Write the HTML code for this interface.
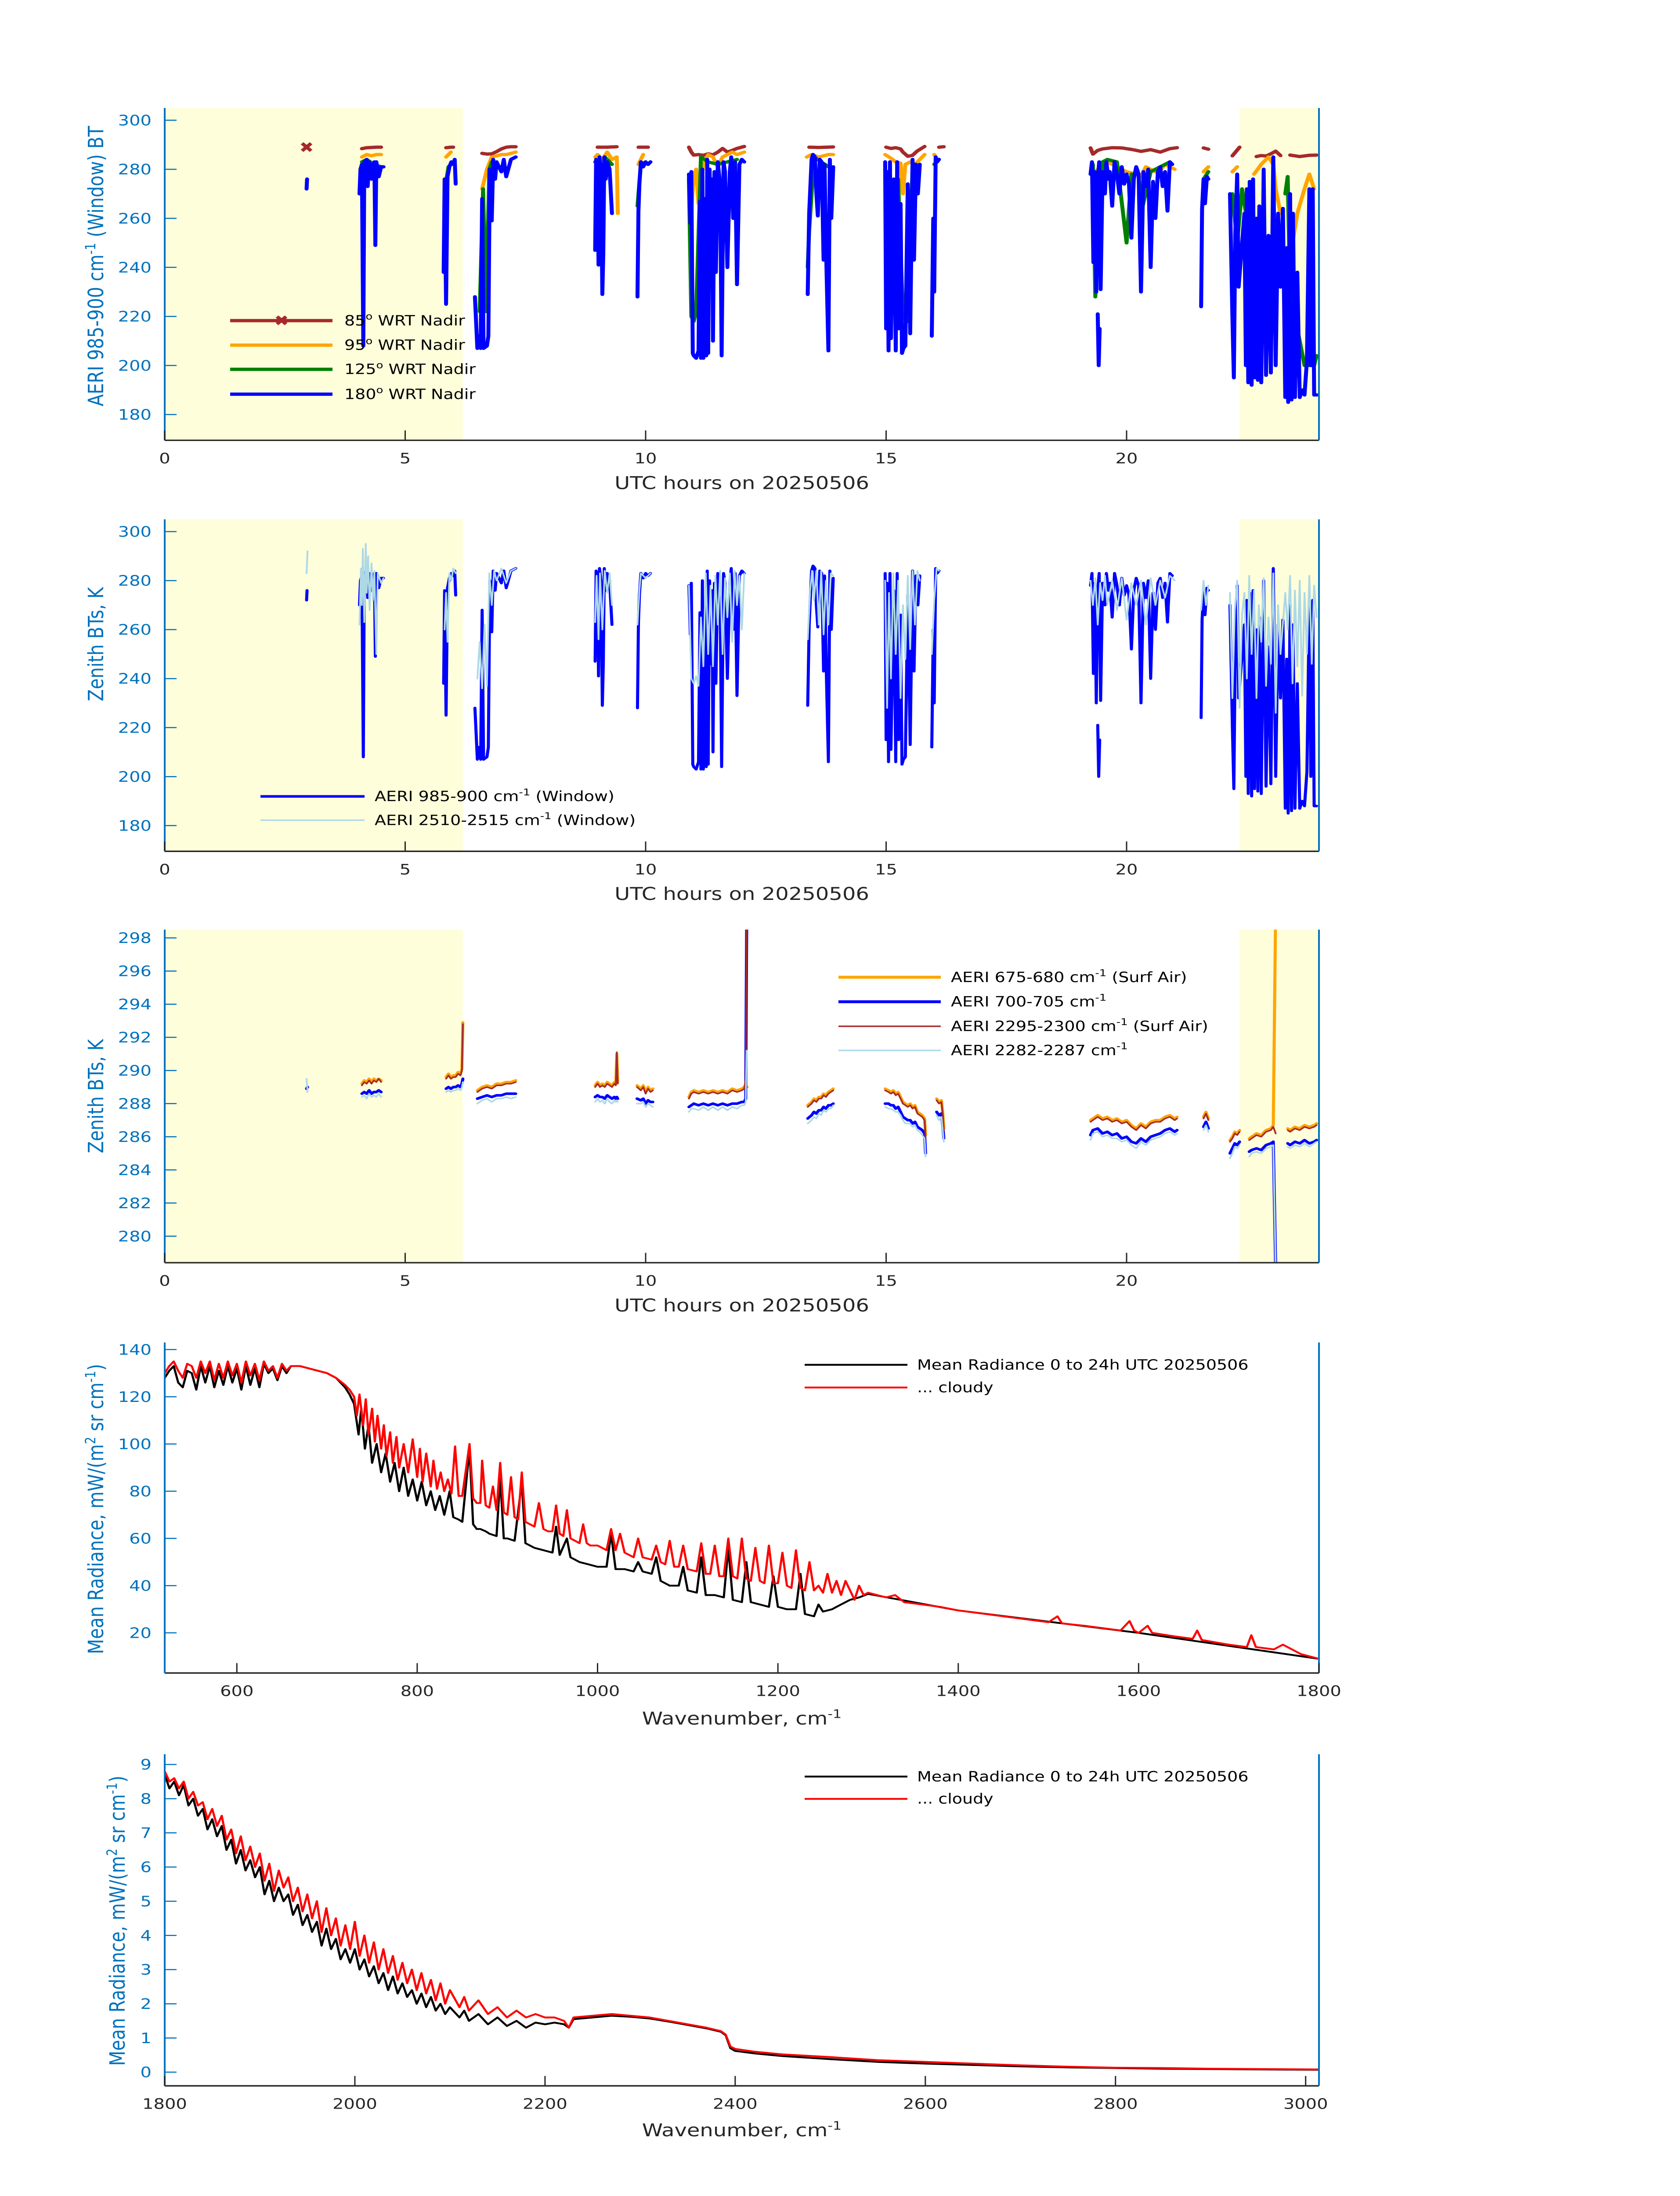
<!DOCTYPE html>
<html><head><meta charset="utf-8">
<style>
html,body{margin:0;padding:0;background:#fff;width:100%;height:100%;overflow:hidden;}
svg{display:block;position:absolute;left:0;top:0;width:100vw;height:100vh;font-family:"DejaVu Sans","Liberation Sans",sans-serif;}
</style></head>
<body>
<svg id="fig" xmlns="http://www.w3.org/2000/svg" viewBox="0 0 3825 6000" preserveAspectRatio="none">
<rect x="0" y="0" width="3825" height="6000" fill="#ffffff"/>
<defs>
<clipPath id="c0"><rect x="375" y="295" width="2628" height="908"/></clipPath>
<clipPath id="c1"><rect x="375" y="1419" width="2628" height="907"/></clipPath>
<clipPath id="c2"><rect x="375" y="2540" width="2628" height="910"/></clipPath>
<clipPath id="c3"><rect x="375" y="3668" width="2628" height="903"/></clipPath>
<clipPath id="c4"><rect x="375" y="4793" width="2628" height="906"/></clipPath>
</defs>
<g id="layer-bg"></g>
<g id="layer-data"></g>
<g id="layer-axes"></g>

<text transform="translate(235,727) rotate(-90)" text-anchor="middle" font-size="48" fill="#0072BD">AERI 985-900 cm<tspan font-size="32" dy="-18">-1</tspan><tspan dy="18"> (Window) BT</tspan></text>
<text x="1689" y="1336" text-anchor="middle" font-size="48" fill="#262626">UTC hours on 20250506</text>
<text transform="translate(235,1760) rotate(-90)" text-anchor="middle" font-size="48" fill="#0072BD">Zenith BTs, K</text>
<text x="1689" y="2459" text-anchor="middle" font-size="48" fill="#262626">UTC hours on 20250506</text>
<text transform="translate(235,2995) rotate(-90)" text-anchor="middle" font-size="48" fill="#0072BD">Zenith BTs, K</text>
<text x="1689" y="3583" text-anchor="middle" font-size="48" fill="#262626">UTC hours on 20250506</text>
<text transform="translate(235,4123) rotate(-90)" text-anchor="middle" font-size="48" fill="#0072BD">Mean Radiance, mW/(m<tspan font-size="32" dy="-18">2</tspan><tspan dy="18"> sr cm</tspan><tspan font-size="32" dy="-18">-1</tspan><tspan dy="18">)</tspan></text>
<text x="1689" y="4712" text-anchor="middle" font-size="48" fill="#262626">Wavenumber, cm<tspan font-size="32" dy="-18">-1</tspan></text>
<text transform="translate(284,5248) rotate(-90)" text-anchor="middle" font-size="48" fill="#0072BD">Mean Radiance, mW/(m<tspan font-size="32" dy="-18">2</tspan><tspan dy="18">  sr cm</tspan><tspan font-size="32" dy="-18">-1</tspan><tspan dy="18">)</tspan></text>
<text x="1689" y="5837" text-anchor="middle" font-size="48" fill="#262626">Wavenumber, cm<tspan font-size="32" dy="-18">-1</tspan></text>

<g font-size="38" fill="#000">
 <line x1="524" y1="876" x2="757" y2="876" stroke="#A52A2A" stroke-width="9"/>
 <text x="641" y="890" text-anchor="middle" font-size="40" fill="#A52A2A" font-weight="bold">✖</text>
 <text x="784" y="889">85<tspan font-size="26" dy="-16">o</tspan><tspan dy="16"> WRT Nadir</tspan></text>
 <line x1="524" y1="943" x2="757" y2="943" stroke="#FFA500" stroke-width="9"/>
 <text x="784" y="956">95<tspan font-size="26" dy="-16">o</tspan><tspan dy="16"> WRT Nadir</tspan></text>
 <line x1="524" y1="1009" x2="757" y2="1009" stroke="#008000" stroke-width="9"/>
 <text x="784" y="1022">125<tspan font-size="26" dy="-16">o</tspan><tspan dy="16"> WRT Nadir</tspan></text>
 <line x1="524" y1="1077" x2="757" y2="1077" stroke="#0000FF" stroke-width="9"/>
 <text x="784" y="1090">180<tspan font-size="26" dy="-16">o</tspan><tspan dy="16"> WRT Nadir</tspan></text>
</g>
<g font-size="38" fill="#000">
 <line x1="593" y1="2176" x2="830" y2="2176" stroke="#0000FF" stroke-width="7"/>
 <text x="853" y="2189">AERI 985-900 cm<tspan font-size="26" dy="-16">-1</tspan><tspan dy="16"> (Window)</tspan></text>
 <line x1="593" y1="2241" x2="830" y2="2241" stroke="#ADD8E6" stroke-width="4"/>
 <text x="853" y="2254">AERI 2510-2515 cm<tspan font-size="26" dy="-16">-1</tspan><tspan dy="16"> (Window)</tspan></text>
</g>
<g font-size="38" fill="#000">
 <line x1="1909" y1="2670" x2="2142" y2="2670" stroke="#FFA500" stroke-width="8"/>
 <text x="2165" y="2683">AERI 675-680 cm<tspan font-size="26" dy="-16">-1</tspan><tspan dy="16"> (Surf Air)</tspan></text>
 <line x1="1909" y1="2737" x2="2142" y2="2737" stroke="#0000FF" stroke-width="8"/>
 <text x="2165" y="2750">AERI 700-705 cm<tspan font-size="26" dy="-16">-1</tspan></text>
 <line x1="1909" y1="2804" x2="2142" y2="2804" stroke="#A52A2A" stroke-width="4"/>
 <text x="2165" y="2817">AERI 2295-2300 cm<tspan font-size="26" dy="-16">-1</tspan><tspan dy="16"> (Surf Air)</tspan></text>
 <line x1="1909" y1="2870" x2="2142" y2="2870" stroke="#ADD8E6" stroke-width="4"/>
 <text x="2165" y="2883">AERI 2282-2287 cm<tspan font-size="26" dy="-16">-1</tspan></text>
</g>
<g font-size="38" fill="#000">
 <line x1="1832" y1="3729" x2="2066" y2="3729" stroke="#000" stroke-width="5"/>
 <text x="2088" y="3742">Mean Radiance 0 to 24h UTC 20250506</text>
 <line x1="1832" y1="3791" x2="2066" y2="3791" stroke="#FF0000" stroke-width="5"/>
 <text x="2088" y="3804">... cloudy</text>
</g>
<g font-size="38" fill="#000">
 <line x1="1832" y1="4854" x2="2066" y2="4854" stroke="#000" stroke-width="5"/>
 <text x="2088" y="4867">Mean Radiance 0 to 24h UTC 20250506</text>
 <line x1="1832" y1="4915" x2="2066" y2="4915" stroke="#FF0000" stroke-width="5"/>
 <text x="2088" y="4928">... cloudy</text>
</g>
</svg>

<script>
const p1BlueT = [2.95,2.96,null,
4.05,4.07,4.1,4.13,4.15,4.2,4.22,4.25,4.3,4.33,4.36,4.38,4.4,4.45,4.5,4.55,null,
5.8,5.82,5.85,5.88,5.92,5.96,6.0,6.03,6.05,null,
6.45,6.5,6.53,6.57,6.6,6.63,6.7,6.73,6.76,6.8,6.83,6.87,6.9,7.0,7.05,7.1,7.2,7.3,null,
8.95,8.97,9.0,9.02,9.04,9.07,9.1,9.12,9.14,9.17,9.2,9.25,9.3,null,
9.83,9.85,9.87,9.9,9.95,10.0,10.05,10.1,null,
10.9,10.93,10.95,10.98,11.0,11.05,11.1,11.13,11.15,11.18,11.2,11.23,11.26,11.28,11.3,11.33,11.36,11.38,11.4,11.43,11.46,11.5,11.55,11.58,11.62,11.65,11.7,11.75,11.78,11.82,11.86,11.9,11.95,12.0,12.05,null,
13.37,13.4,13.45,13.48,13.52,13.55,13.58,13.62,13.66,13.7,13.72,13.76,13.8,13.83,13.86,13.9,null,
14.98,15.0,15.02,15.05,15.08,15.1,15.13,15.16,15.2,15.23,15.26,15.3,15.33,15.36,15.4,15.45,15.5,15.55,15.58,15.62,15.66,15.7,null,
15.95,15.98,16.0,16.03,16.06,16.1,null,
19.25,19.28,19.31,19.34,19.37,19.4,19.43,19.46,19.5,19.55,19.58,19.62,19.65,19.7,19.75,19.8,19.85,19.9,19.95,20.0,20.05,20.1,20.15,20.2,20.25,20.3,20.35,20.4,20.45,20.5,20.55,20.6,20.65,20.7,20.75,20.8,20.85,20.9,20.95,null,
19.4,19.42,19.44,null,
21.55,21.57,21.6,21.63,21.67,21.7,null,
22.15,22.2,22.23,22.26,22.3,22.33,22.45,22.48,22.5,22.53,22.56,22.6,22.63,22.66,22.7,22.73,22.76,22.8,22.85,22.9,22.95,23.0,23.05,23.1,23.15,23.2,23.25,23.3,23.33,23.36,23.4,23.43,23.46,23.5,23.55,23.6,23.65,23.7,23.75,23.8,23.83,23.87,23.9,23.95];
const p1BlueV = [272,276,null,
270,280,282,208,283,284,273,283,276,282,283,249,283,277,281,281,null,
238,276,225,277,281,283,282,284,274,null,
228,207,212,207,268,207,208,212,280,259,284,276,283,279,284,277,284,285,null,
247,284,282,241,285,280,229,246,285,276,283,280,262,null,
228,263,274,283,281,283,282,283,null,
278,258,279,205,204,203,206,267,203,280,203,268,204,284,205,280,246,276,210,279,238,283,273,204,283,279,240,279,285,260,283,233,282,284,283,null,
229,262,284,286,285,270,261,284,283,243,282,240,206,284,260,281,null,
283,215,279,206,283,211,245,276,206,283,215,266,205,207,208,274,213,284,243,282,270,282,null,
212,260,230,285,283,284,null,
278,283,242,279,230,276,283,231,279,270,283,276,279,265,283,278,270,281,274,278,274,252,276,281,278,230,279,273,280,240,275,260,279,281,273,279,263,283,282,null,
221,200,215,null,
224,264,276,266,277,276,null,
270,220,195,254,278,232,262,200,272,193,275,192,276,195,260,194,265,193,280,196,253,197,285,200,262,232,264,187,248,185,270,186,262,187,238,187,190,188,202,272,200,272,188,188];

const p1BrownT = [4.1,4.2,4.3,4.4,4.5,null,5.85,5.95,6.0,null,6.6,6.7,6.8,6.9,7.0,7.1,7.2,7.3,null,9.0,9.2,9.4,null,9.85,10.05,null,
10.9,10.95,11.0,11.1,11.2,11.3,11.4,11.5,11.6,11.7,11.8,11.9,12.05,null,13.4,13.6,13.9,null,
15.0,15.1,15.2,15.3,15.35,15.45,15.55,15.65,15.8,null,16.1,16.2,null,
19.25,19.3,19.4,19.5,19.7,19.9,20.1,20.3,20.5,20.7,20.9,21.05,null,21.6,21.7,null,22.2,22.35,null,
22.7,22.8,22.9,23.0,23.1,23.2,null,23.4,23.6,23.8,23.95];
const p1BrownV = [288.4,288.8,288.9,289,289,null,288.8,289,289,null,286.5,286.2,286.3,287.2,288.3,289,289.2,289.2,null,289,289,289.2,null,289,289,null,
289,287,285.8,286,285.7,286.3,285.9,287,288.5,287,287.7,288.5,289.3,null,289,288.9,289.1,null,
289,288.5,288.8,288.3,287,285.3,285.7,287.5,289.3,null,289,289.2,null,
288.7,286.2,287.7,288.3,288.8,288.7,288.1,287.3,288,287,288.4,288.8,null,288.7,288.2,null,285.5,289,null,
285.2,285.6,285.4,286.3,287.4,285.6,null,285.8,285.2,285.7,285.8];
const p1MarkerT = [2.95];
const p1MarkerV = [289];

const p1OrangeT = [4.1,4.2,4.3,4.4,4.5,null,5.85,5.95,null,6.6,6.7,6.8,6.9,7.0,7.1,7.2,7.3,null,
8.95,9.0,9.1,9.2,9.3,9.4,9.42,null,9.85,9.95,null,
10.9,10.95,11.0,11.05,11.1,11.2,11.3,11.4,11.5,11.6,11.7,11.8,11.9,12.05,null,13.35,13.45,13.6,13.8,13.9,null,
14.98,15.1,15.2,15.3,15.35,15.4,15.5,15.6,15.7,15.8,null,16.0,16.08,null,
19.3,19.4,19.5,19.6,19.7,19.8,20.0,20.2,20.3,20.4,20.5,20.6,20.7,20.8,20.9,21.0,null,21.6,21.7,null,22.2,22.3,null,
22.65,22.8,22.95,23.05,23.1,23.2,null,23.4,23.45,23.55,23.7,23.8,23.9];
const p1OrangeV = [285,286,285.5,286,286,null,285,287,null,272,280,285,285.5,286,286,286.5,287,null,
285,286,284,287,284,285,262,null,282,286,null,
276,263,277,280,266,282,286,285,281,285,286,287,286,287,null,285,286,285,286,286,null,
286,284.5,283,282.5,270,282,283,282,284,286,null,286,283.5,null,
277,280,281,283,282,281,279,278,277,281,280,279,279.5,282,281,280,null,279,281,null,279,281,null,
278,282,285,282,272,262,null,258,250,262,272,278,272];

const p1GreenT = [4.1,4.2,4.35,4.5,null,5.85,5.9,6.0,null,6.55,6.62,6.68,6.75,6.8,null,8.95,9.05,9.1,9.15,9.3,null,9.83,9.9,10.0,null,
10.9,10.95,11.0,11.05,11.15,11.3,11.5,11.7,11.9,null,13.37,13.4,13.5,13.8,null,15.15,15.25,15.35,15.45,15.55,15.6,null,16.0,16.05,null,
19.3,19.35,19.5,19.6,19.8,20.0,20.1,20.25,20.3,20.5,20.9,null,21.6,21.7,null,22.2,22.3,22.4,22.5,null,23.3,23.35,23.4,23.7,23.9,23.95];
const p1GreenV = [283,284,282,281,null,275,281,283,null,222,272,222,280,283,null,283,283,260,285,282,null,265,282,283,null,
276,220,218,222,285,283,282,283,284,null,240,255,285,281,null,263,276,220,218,281,282,null,282,283,null,
282,228,283,284,283,250,278,278,262,279,283,null,276,279,null,270,250,272,260,null,270,277,230,200,200,204];

const p2LightT = [2.95,2.97,null,
4.05,4.08,4.1,4.12,4.15,4.18,4.2,4.23,4.26,4.3,4.33,4.36,4.4,4.43,4.5,4.55,null,
5.82,5.85,5.88,5.92,5.96,6.0,6.05,null,
6.5,6.55,6.6,6.65,6.7,6.75,6.8,6.85,6.9,7.0,7.1,7.2,7.3,null,
8.95,8.98,9.02,9.05,9.1,9.15,9.2,9.25,9.3,null,
9.83,9.87,9.9,10.0,10.1,null,
10.9,10.95,11.0,11.05,11.1,11.15,11.2,11.25,11.3,11.35,11.4,11.45,11.5,11.55,11.6,11.65,11.7,11.75,11.8,11.85,11.9,11.95,12.0,12.05,null,
13.37,13.42,13.46,13.5,13.55,13.6,13.65,13.7,13.75,13.8,13.85,13.9,null,
14.98,15.02,15.06,15.1,15.15,15.2,15.25,15.3,15.35,15.4,15.45,15.5,15.55,15.6,15.65,15.7,null,
15.95,16.0,16.05,16.1,null,
19.25,19.3,19.35,19.4,19.45,19.5,19.55,19.6,19.7,19.8,19.9,20.0,20.1,20.2,20.3,20.4,20.5,20.6,20.7,20.8,20.9,21.0,null,
21.55,21.6,21.65,21.7,null,
22.15,22.2,22.25,22.3,22.35,22.4,22.45,22.5,22.55,22.6,22.65,22.7,22.75,22.8,22.85,22.9,22.95,23.0,23.05,23.1,23.15,23.2,23.3,23.35,23.4,23.45,23.5,23.55,23.6,23.65,23.7,23.75,23.8,23.85,23.9,23.95];
const p2LightV = [283,292,null,
262,285,270,293,263,295,275,290,268,287,272,284,250,283,279,281,null,
260,275,255,283,280,285,283,null,
240,255,236,262,237,283,270,284,280,285,279,284,285,null,
263,282,256,283,260,284,275,283,270,null,
262,276,283,281,283,null,
278,240,238,241,237,265,245,283,250,278,245,282,262,284,250,281,265,283,255,284,270,282,260,283,null,
256,276,284,272,284,262,284,258,280,262,283,282,null,
280,228,275,240,283,250,280,232,270,248,282,252,284,262,284,280,null,
250,272,285,284,null,
280,270,281,262,279,272,282,270,280,268,281,264,279,270,280,262,281,270,280,273,282,280,null,
268,280,270,278,null,
275,232,268,280,228,266,275,240,282,250,276,232,270,255,281,237,265,246,283,226,270,250,275,260,282,238,276,245,280,233,275,250,282,246,278,265];

const p3T = [2.95,2.97,null,
4.1,4.15,4.2,4.25,4.3,4.35,4.4,4.45,4.5,null,
5.85,5.9,5.95,6.0,6.05,6.1,6.15,6.18,6.2,null,
6.5,6.6,6.7,6.8,6.9,7.0,7.1,7.2,7.3,null,
8.95,9.0,9.05,9.1,9.15,9.2,9.25,9.3,9.35,9.38,9.4,9.42,null,
9.82,9.9,9.95,10.0,10.05,10.1,10.15,null,
10.9,10.95,11.0,11.1,11.2,11.3,11.4,11.5,11.6,11.7,11.8,11.9,12.0,12.05,12.08,12.1,12.11,null,
13.37,13.45,13.5,13.55,13.6,13.65,13.7,13.75,13.8,13.85,13.9,null,
14.98,15.05,15.1,15.15,15.2,15.25,15.3,15.35,15.4,15.45,15.5,15.55,15.6,15.65,15.7,15.75,15.8,15.82,null,
16.05,16.1,16.15,16.18,16.2,null,
19.25,19.3,19.4,19.5,19.6,19.7,19.8,19.9,20.0,20.1,20.2,20.3,20.4,20.5,20.6,20.7,20.8,20.9,21.0,21.05,null,
21.6,21.65,21.7,null,
22.15,22.2,22.25,22.3,22.35,null,
22.55,22.6,22.7,22.8,22.9,23.0,23.05,23.1,null,
23.35,23.4,23.5,23.6,23.7,23.8,23.9,23.95];
const p3BrownV = [null,null,null,
289.1,289.3,289.2,289.4,289.2,289.4,289.3,289.5,289.3,null,
289.5,289.7,289.5,289.6,289.6,289.8,289.7,290.0,292.8,null,
288.7,288.9,289.0,288.9,289.1,289.1,289.2,289.2,289.3,null,
289.0,289.2,289.0,289.1,289.0,289.2,289.1,289.0,289.2,289.1,291.1,289.2,null,
289.0,288.8,289.0,288.6,288.9,288.7,288.8,null,
288.3,288.6,288.7,288.6,288.7,288.6,288.7,288.6,288.7,288.6,288.8,288.7,288.8,288.9,289.5,298.6,298.6,null,
287.8,288.0,288.2,288.1,288.3,288.3,288.5,288.4,288.6,288.7,288.8,null,
288.8,288.7,288.6,288.7,288.5,288.6,288.3,288.0,287.9,287.8,287.9,287.7,287.8,287.4,287.3,287.2,287.0,286.0,null,
288.2,288.0,288.1,287.3,286.4,null,
286.9,287.0,287.2,287.0,287.1,286.9,287.0,286.8,286.9,286.6,286.4,286.7,286.5,286.8,286.9,286.9,287.1,287.2,287.0,287.1,null,
287.1,287.4,287.0,null,
285.7,285.9,286.2,286.1,286.3,null,
285.8,285.9,286.1,286.0,286.3,286.4,286.6,286.2,null,
286.4,286.3,286.5,286.4,286.6,286.5,286.6,286.7];
const p3OrangeV = [null,null,null,
289.2,289.4,289.3,289.5,289.3,289.5,289.4,289.5,289.4,null,
289.6,289.8,289.6,289.7,289.7,289.9,289.8,290.1,292.9,null,
288.8,289.0,289.1,289.0,289.2,289.2,289.3,289.3,289.4,null,
289.1,289.3,289.1,289.2,289.1,289.3,289.2,289.1,289.3,289.2,291.0,289.3,null,
289.1,288.9,289.1,288.7,289.0,288.8,288.9,null,
288.4,288.7,288.8,288.7,288.8,288.7,288.8,288.7,288.8,288.7,288.9,288.8,288.9,289.0,289.1,289.0,289.0,null,
287.9,288.1,288.3,288.2,288.4,288.4,288.6,288.5,288.7,288.8,288.9,null,
288.9,288.8,288.7,288.8,288.6,288.7,288.4,288.1,288.0,287.9,288.0,287.8,287.9,287.5,287.4,287.3,287.1,286.1,null,
288.3,288.1,288.2,287.4,286.5,null,
287.0,287.1,287.3,287.1,287.2,287.0,287.1,286.9,287.0,286.7,286.5,286.8,286.6,286.9,287.0,287.0,287.2,287.3,287.1,287.2,null,
287.2,287.5,287.1,null,
285.8,286.0,286.3,286.2,286.4,null,
285.9,286.0,286.2,286.1,286.4,286.5,286.7,300,null,
286.5,286.4,286.6,286.5,286.7,286.6,286.7,286.8];
const p3BlueV = [288.9,289.0,null,
288.6,288.7,288.6,288.8,288.6,288.7,288.7,288.8,288.7,null,
288.9,289.0,288.9,289.0,289.0,289.1,289.0,289.2,289.5,null,
288.3,288.4,288.5,288.4,288.5,288.5,288.6,288.6,288.6,null,
288.4,288.5,288.4,288.4,288.3,288.5,288.4,288.3,288.4,288.3,288.4,288.3,null,
288.3,288.2,288.3,288.0,288.2,288.1,288.1,null,
287.8,287.9,288.0,287.9,288.0,287.9,288.0,287.9,288.0,287.9,288.0,288.0,288.1,288.1,288.3,298.6,298.6,null,
287.1,287.3,287.5,287.4,287.6,287.6,287.8,287.7,287.9,287.9,288.0,null,
288.0,288.0,287.9,287.9,287.7,287.8,287.5,287.2,287.1,287.0,287.0,286.8,286.9,286.6,286.5,286.4,286.2,285.0,null,
287.5,287.3,287.4,286.6,285.9,null,
286.1,286.4,286.5,286.2,286.3,286.1,286.2,285.9,286.0,285.7,285.6,285.9,285.7,286.0,286.1,286.2,286.4,286.5,286.3,286.4,null,
286.6,286.9,286.5,null,
285.0,285.3,285.6,285.5,285.7,null,
285.1,285.2,285.3,285.2,285.5,285.6,285.7,278,null,
285.6,285.5,285.7,285.6,285.8,285.6,285.7,285.8];
const p3LightV = [289.5,288.7,null,
288.4,288.5,288.3,288.6,288.4,288.5,288.4,288.6,288.4,null,
288.7,288.8,288.7,288.8,288.8,288.9,288.8,289.0,289.3,null,
288.0,288.2,288.3,288.1,288.3,288.3,288.4,288.3,288.4,null,
288.1,288.3,288.1,288.2,288.0,288.3,288.1,288.0,288.2,288.1,288.2,288.1,null,
288.0,288.0,288.1,287.8,288.0,287.9,287.8,null,
287.5,287.7,287.7,287.6,287.8,287.6,287.8,287.6,287.8,287.6,287.8,287.7,287.9,287.9,288.1,291.2,291.2,null,
286.8,287.0,287.2,287.1,287.4,287.3,287.6,287.5,287.7,287.7,287.9,null,
287.8,287.7,287.7,287.6,287.5,287.5,287.3,287.0,286.8,286.8,286.8,286.6,286.7,286.4,286.3,286.1,285.9,284.8,null,
287.3,287.0,287.2,286.3,285.7,null,
285.8,286.2,286.3,286.0,286.1,285.9,285.9,285.7,285.8,285.5,285.3,285.7,285.5,285.8,285.9,286.0,286.2,286.3,286.1,286.2,null,
286.4,286.7,286.3,null,
284.7,285.0,285.4,285.3,285.5,null,
284.8,285.0,285.1,285.0,285.3,285.4,285.5,278,null,
285.4,285.3,285.5,285.4,285.6,285.4,285.6,285.7];

const p4RedWn = [520,525,530,535,540,545,550,555,560,565,570,575,580,585,590,595,600,605,610,615,620,625,630,635,640,645,650,655,660,670,
680,690,700,710,720,725,730,733,736,740,743,746,750,753,756,760,763,766,770,773,777,780,785,790,795,800,803,806,810,815,
818,822,826,830,834,838,842,846,850,858,862,866,870,872,876,880,884,888,892,896,900,904,908,912,916,920,925,930,935,940,
945,950,954,958,962,966,970,975,980,984,988,992,996,1000,1005,1010,1015,1020,1025,1030,1035,1040,1045,1050,1060,1065,1070,1075,1080,1085,
1090,1095,1100,1110,1115,1120,1125,1130,1135,1140,1145,1150,1155,1160,1165,1170,1175,1180,1185,1190,1195,1200,1205,1210,1215,1220,1225,1230,1235,1240,
1245,1250,1255,1260,1265,1270,1275,1280,1285,1290,1295,1300,1310,1320,1330,1340,1360,1380,1400,1420,1440,1460,1480,1500,1510,1515,1540,1560,1580,1590,
1595,1600,1610,1615,1640,1660,1665,1670,1700,1720,1725,1730,1750,1760,1780,1800];
const p4RedV = [130,133,135,131,128,134,133,128,135,130,135,127,134,128,135,129,134,126,135,129,134,127,135,131,133,128,134,131,133,133,
132,131,130,128,125,123,120,112,121,108,119,104,115,101,112,98,108,95,105,92,103,90,100,88,102,86,98,84,96,82,
93,81,88,80,85,79,99,78,78,100,77,75,75,93,74,73,82,72,92,71,70,86,69,68,88,67,66,65,75,64,
63,63,74,62,61,72,60,59,58,66,58,57,57,57,56,55,64,55,62,54,53,52,60,52,51,57,50,49,59,48,
48,57,47,46,58,45,45,57,44,44,60,44,43,60,43,42,56,42,41,57,41,41,54,40,39,55,39,38,50,38,
40,37,45,37,42,36,42,38,34,40,36,37,36,35,36,33,32,31,29.5,28.5,27.5,26.5,25.5,24.5,27,24,23,22,21,25,
21,20,23,20,18.5,17.5,21,17,15,14,19,14,13,15,11,9];
const p4BlackWn = [520,525,530,535,540,545,550,555,560,565,570,575,580,585,590,595,600,605,610,615,620,625,630,635,640,645,650,655,660,670,
680,690,700,710,720,725,730,735,738,742,746,750,755,760,765,770,775,780,785,790,795,800,805,810,815,820,825,830,836,840,
846,850,858,862,866,870,876,880,888,892,896,900,908,916,920,930,940,950,954,958,966,970,980,990,1000,1010,1015,1020,1030,1040,
1045,1050,1060,1065,1070,1080,1090,1095,1100,1110,1115,1120,1130,1140,1145,1150,1160,1165,1170,1180,1190,1195,1200,1210,1220,1225,1230,1240,1245,1250,
1260,1270,1280,1290,1300,1400,1600,1800];
const p4BlackV = [128,131,133,126,124,131,130,123,133,126,133,124,131,125,133,126,132,123,133,125,132,124,134,130,132,127,133,130,133,133,
132,131,130,128,124,121,117,104,115,98,108,92,100,88,96,84,92,80,90,78,85,76,84,74,80,72,78,70,80,69,
68,67,98,66,64,64,63,62,61,86,60,60,59,84,58,56,55,54,65,53,60,52,50,49,48,48,62,47,47,46,
50,46,45,52,42,40,40,48,38,37,52,36,36,35,56,34,33,50,33,32,31,44,31,30,30,45,28,27,32,29,
30,32,34,35,36.5,29.5,20,9];

const p5RedWn = [1800,1805,1810,1815,1820,1825,1830,1835,1840,1845,1850,1855,1860,1865,1870,1875,1880,1885,1890,1895,
1900,1905,1910,1915,1920,1925,1930,1935,1940,1945,1950,1955,1960,1965,1970,1975,1980,1985,1990,1995,
2000,2005,2010,2015,2020,2025,2030,2035,2040,2045,2050,2055,2060,2065,2070,2075,2080,2085,2090,2095,
2100,2110,2115,2120,2130,2140,2150,2160,2170,2180,2190,2200,2210,2220,2225,2230,2250,2270,2290,2310,
2330,2350,2370,2385,2390,2395,2400,2420,2450,2500,2550,2600,2650,2700,2750,2800,2850,2900,2950,3014];
const p5RedV = [8.8,8.5,8.6,8.3,8.5,8.0,8.2,7.8,7.9,7.4,7.7,7.2,7.5,6.8,7.1,6.4,6.9,6.2,6.6,6.0,
6.4,5.6,6.1,5.3,5.9,5.4,5.7,5.0,5.4,4.7,5.2,4.5,5.0,4.1,4.8,4.0,4.5,3.7,4.3,3.6,
4.4,3.4,4.0,3.2,3.8,3.0,3.6,2.9,3.4,2.7,3.2,2.6,3.0,2.4,2.9,2.3,2.7,2.1,2.6,2.0,
2.4,1.9,2.2,1.8,2.1,1.7,1.9,1.6,1.8,1.6,1.7,1.6,1.6,1.5,1.3,1.6,1.65,1.7,1.65,1.6,
1.5,1.4,1.3,1.2,1.1,0.75,0.68,0.6,0.52,0.44,0.35,0.3,0.25,0.2,0.16,0.13,0.12,0.1,0.09,0.08];
const p5BlackWn = p5RedWn;
const p5BlackV = [8.7,8.3,8.5,8.1,8.4,7.8,8.0,7.5,7.7,7.1,7.4,6.9,7.2,6.5,6.8,6.1,6.5,5.9,6.2,5.7,
6.0,5.2,5.6,5.0,5.4,5.0,5.2,4.6,4.9,4.3,4.6,4.1,4.4,3.7,4.2,3.6,3.9,3.3,3.6,3.2,
3.6,3.0,3.3,2.8,3.1,2.6,2.9,2.4,2.8,2.3,2.6,2.2,2.4,2.0,2.3,1.9,2.2,1.8,2.0,1.7,
1.9,1.6,1.8,1.5,1.7,1.4,1.6,1.35,1.5,1.3,1.45,1.4,1.45,1.4,1.3,1.55,1.6,1.65,1.62,1.57,
1.48,1.38,1.28,1.18,1.08,0.7,0.62,0.55,0.47,0.38,0.3,0.25,0.21,0.17,0.14,0.12,0.1,0.09,0.08,0.07];

const hourTicks = [0,5,10,15,20];
const btTicks = [180,200,220,240,260,280,300];
const surfTicks = [280,282,284,286,288,290,292,294,296,298];
const wn1Ticks = [600,800,1000,1200,1400,1600,1800];
const rad1Ticks = [20,40,60,80,100,120,140];
const wn2Ticks = [1800,2000,2200,2400,2600,2800,3000];
const rad2Ticks = [0,1,2,3,4,5,6,7,8,9];
const shadeStart = [0,22.35];
const shadeEnd = [6.2,24];

const NS = 'http://www.w3.org/2000/svg';
const PANELS = [
 {x0:375,x1:3003,y0:295,y1:1203,xmin:0,xmax:24,ymin:169.5,ymax:305,clip:'c0'},
 {x0:375,x1:3003,y0:1419,y1:2326,xmin:0,xmax:24,ymin:169.5,ymax:305,clip:'c1'},
 {x0:375,x1:3003,y0:2540,y1:3450,xmin:0,xmax:24,ymin:278.4,ymax:298.5,clip:'c2'},
 {x0:375,x1:3003,y0:3668,y1:4571,xmin:520,xmax:1800,ymin:3,ymax:143,clip:'c3'},
 {x0:375,x1:3003,y0:4793,y1:5699,xmin:1800,xmax:3014,ymin:-0.4,ymax:9.3,clip:'c4'}
];
function sx(p,v){return p.x0+(v-p.xmin)/(p.xmax-p.xmin)*(p.x1-p.x0);}
function sy(p,v){return p.y1-(v-p.ymin)/(p.ymax-p.ymin)*(p.y1-p.y0);}
function mk(tag,attrs,parent){const e=document.createElementNS(NS,tag);for(const k in attrs)e.setAttribute(k,attrs[k]);parent.appendChild(e);return e;}
function pathFrom(p,T,V){let d='',pen=false;for(let i=0;i<T.length;i++){if(T[i]==null||V[i]==null){pen=false;continue;}d+=(pen?'L':'M')+sx(p,T[i]).toFixed(1)+','+sy(p,V[i]).toFixed(1);pen=true;}return d;}

const gBg=document.getElementById('layer-bg');
const gData=document.getElementById('layer-data');
const gAx=document.getElementById('layer-axes');

function series(pi,T,V,color,w,name){
  const p=PANELS[pi];
  const e=mk('path',{d:pathFrom(p,T,V),fill:'none',stroke:color,'stroke-width':w,'stroke-linejoin':'round','stroke-linecap':'round','clip-path':'url(#'+p.clip+')'},gData);
  
  
}

function axes(pi,xt,yt,shade){
  const p=PANELS[pi];
  if(shade){
    for(let i=0;i<shadeStart.length;i++){
      const r=mk('rect',{x:sx(p,shadeStart[i]),y:p.y0,width:sx(p,shadeEnd[i])-sx(p,shadeStart[i]),height:p.y1-p.y0,fill:'#fefedb'},gBg);
      
      
    }
  }
  const bl=mk('line',{x1:p.x0,y1:p.y1,x2:p.x1,y2:p.y1,stroke:'#262626','stroke-width':4},gAx);
  
  
  const ll=mk('line',{x1:p.x0,y1:p.y0,x2:p.x0,y2:p.y1,stroke:'#0072BD','stroke-width':4},gAx);
  
  
  const rl=mk('line',{x1:p.x1,y1:p.y0,x2:p.x1,y2:p.y1,stroke:'#0072BD','stroke-width':4},gAx);
  
  
  xt.forEach(v=>{
    const x=sx(p,v);
    const t=mk('line',{x1:x,y1:p.y1,x2:x,y2:p.y1-27,stroke:'#262626','stroke-width':3},gAx);
    
    
    const l=mk('text',{x:x,y:p.y1+63,'text-anchor':'middle','font-size':40,fill:'#262626'},gAx);
    l.textContent=String(v);
    
    
  });
  yt.forEach(v=>{
    const y=sy(p,v);
    const t=mk('line',{x1:p.x0,y1:y,x2:p.x0+27,y2:y,stroke:'#0072BD','stroke-width':3},gAx);
    
    
    const l=mk('text',{x:p.x0-30,y:y+14,'text-anchor':'end','font-size':40,fill:'#0072BD'},gAx);
    l.textContent=String(v);
    
    
  });
}

axes(0,hourTicks,btTicks,true);
axes(1,hourTicks,btTicks,true);
axes(2,hourTicks,surfTicks,true);
axes(3,wn1Ticks,rad1Ticks,false);
axes(4,wn2Ticks,rad2Ticks,false);

series(0,p1BrownT,p1BrownV,'#A52A2A',9,'series-85deg');
series(0,p1OrangeT,p1OrangeV,'#FFA500',9,'series-95deg');
series(0,p1GreenT,p1GreenV,'#008000',9,'series-125deg');
series(0,p1BlueT,p1BlueV,'#0000FF',9,'series-180deg');
p1MarkerT.forEach((t,i)=>{
  const p=PANELS[0];
  const m=mk('text',{x:sx(p,t),y:sy(p,p1MarkerV[i])+14,'text-anchor':'middle','font-size':40,'font-weight':'bold',fill:'#A52A2A'},gData);
  m.textContent='✖';
  
  
});
series(1,p1BlueT,p1BlueV,'#0000FF',7,'series-window-985');
series(1,p2LightT,p2LightV,'#ADD8E6',4,'series-window-2510');
series(2,p3T,p3OrangeV,'#FFA500',7,'series-675');
series(2,p3T,p3BlueV,'#0000FF',7,'series-700');
series(2,p3T,p3BrownV,'#A52A2A',4,'series-2295');
series(2,p3T,p3LightV,'#ADD8E6',4,'series-2282');
series(3,p4BlackWn,p4BlackV,'#000000',5,'series-mean-radiance');
series(3,p4RedWn,p4RedV,'#FF0000',5,'series-cloudy-radiance');
series(4,p5BlackWn,p5BlackV,'#000000',5,'series-mean-radiance');
series(4,p5RedWn,p5RedV,'#FF0000',5,'series-cloudy-radiance');
</script>
</body></html>
